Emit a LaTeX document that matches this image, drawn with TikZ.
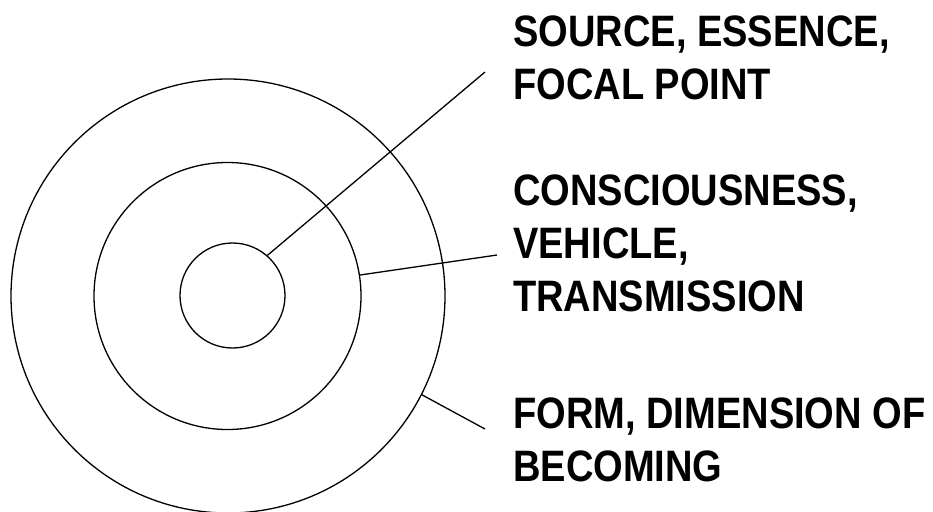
\documentclass[tikz,border=0pt]{standalone}
\usepackage{fontspec}
\newfontfamily\tagfont{Liberation Sans}[FakeStretch=0.865]
\usetikzlibrary{positioning}

\begin{document}
\begin{tikzpicture}[x=1pt,y=-1pt,
    ring/.style={draw,circle,inner sep=0pt,line width=1.3pt},
    tag/.style={anchor=north west,inner sep=0pt,align=left,
      font=\tagfont\bfseries\fontsize{44}{53}\selectfont},
    lead/.style={line width=1.3pt}]

  \useasboundingbox (0,0) rectangle (933,511);

  % the three rings
  \node [ring,minimum size=434pt] (outer)  at (228,296)     {};
  \node [ring,minimum size=267pt] (middle) at (227.5,296)   {};
  \node [ring,minimum size=105pt] (inner)  at (232.5,295.5) {};

  % labels
  \node [tag] (source)  at (513,16)  {SOURCE, ESSENCE,\\FOCAL POINT};
  \node [tag] (vehicle) at (513,175) {CONSCIOUSNESS,\\VEHICLE,\\TRANSMISSION};
  \node [tag] (form)    at (513,398) {FORM, DIMENSION OF\\BECOMING};

  \coordinate (source_end)  at (485,72);
  \coordinate (vehicle_end) at (497,255);
  \coordinate (form_end)    at (485,429);

  \path [draw,lead]
    (inner.49)   -- (source_end)
    (middle.9.8) -- (vehicle_end)
    (outer.-27.5) -- (form_end);

\end{tikzpicture}
\end{document}
